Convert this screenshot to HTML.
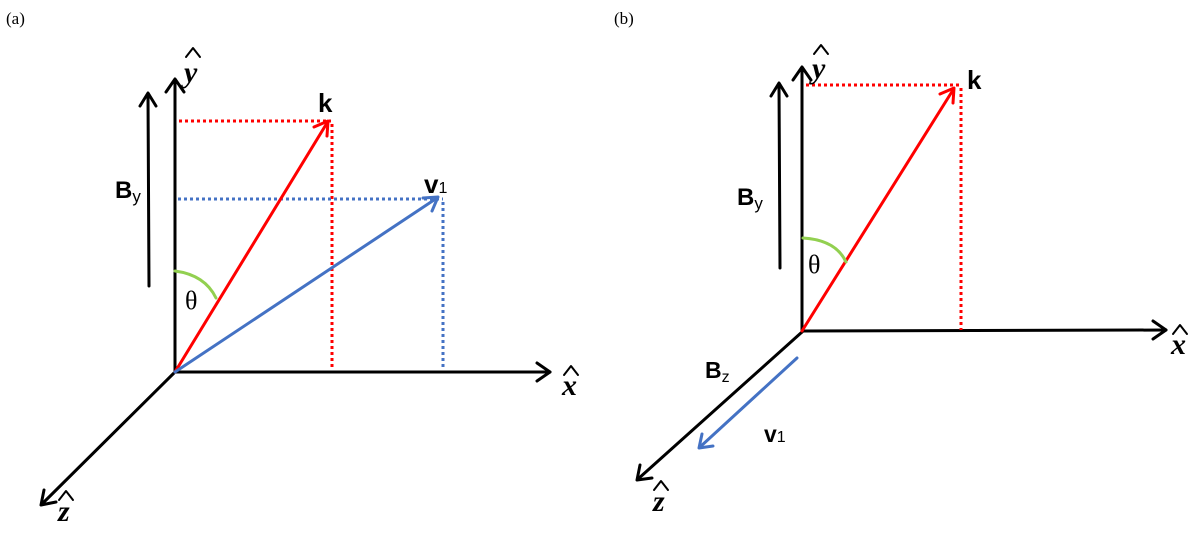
<!DOCTYPE html>
<html><head><meta charset="utf-8"><style>
html,body{margin:0;padding:0;background:#fff;}
svg{display:block;}
text{font-family:"Liberation Sans",sans-serif;}
.s{font-family:"Liberation Serif",serif;}
</style></head><body>
<svg width="1200" height="535" viewBox="0 0 1200 535" xmlns="http://www.w3.org/2000/svg">
<g fill="none" stroke-linecap="round" stroke-linejoin="round">
<!-- panel a -->
<g stroke="#000" stroke-width="3">
<line x1="175" y1="372" x2="175" y2="80"/><polyline points="166,92 175,79 184,92"/>
<line x1="175" y1="372" x2="550" y2="372"/><polyline points="537,363 550,372 537,381"/>
<line x1="175" y1="372" x2="42" y2="504"/><polyline points="44,490 41,505 56,502"/>
<line x1="149" y1="286" x2="148" y2="94"/><polyline points="140,106 148,93 156,106"/>
</g>
<g stroke="#ff0000" stroke-width="3" stroke-dasharray="3,3" stroke-linecap="butt">
<line x1="179" y1="121" x2="331" y2="121"/><line x1="332" y1="124" x2="332" y2="369"/>
</g>
<g stroke="#4472c4" stroke-width="3" stroke-dasharray="3,3" stroke-linecap="butt">
<line x1="178" y1="199" x2="443" y2="199"/><line x1="443" y1="202" x2="443" y2="367"/>
</g>
<line x1="175" y1="372" x2="327" y2="123" stroke="#ff0000" stroke-width="3"/>
<polyline points="314,127 328,121 327,136" stroke="#ff0000" stroke-width="3"/>
<line x1="175" y1="372" x2="437" y2="198" stroke="#4472c4" stroke-width="3"/>
<polyline points="423,198 438,197 432,211" stroke="#4472c4" stroke-width="3"/>
<path d="M175,271 Q205,275 216,298" stroke="#92d050" stroke-width="3"/>
<!-- panel b -->
<g stroke="#000" stroke-width="3">
<line x1="802" y1="332" x2="802" y2="68"/><polyline points="793,80 802,67 811,80"/>
<line x1="802" y1="331" x2="1166" y2="330"/><polyline points="1153,321 1166,330 1153,339"/>
<line x1="802" y1="332" x2="638" y2="479"/><polyline points="640,465 637,480 652,478"/>
<line x1="780" y1="268" x2="779" y2="84"/><polyline points="771,96 779,83 787,96"/>
</g>
<g stroke="#ff0000" stroke-width="3" stroke-dasharray="3,3" stroke-linecap="butt">
<line x1="806" y1="85" x2="959" y2="85"/><line x1="961" y1="88" x2="961" y2="330"/>
</g>
<line x1="802" y1="331" x2="953" y2="90" stroke="#ff0000" stroke-width="3"/>
<polyline points="940,94 954,88 953,103" stroke="#ff0000" stroke-width="3"/>
<path d="M803,238 Q836,240 846,262" stroke="#92d050" stroke-width="3"/>
<line x1="797" y1="358" x2="700" y2="447" stroke="#4472c4" stroke-width="3"/>
<polyline points="702,434 699,448 713,446" stroke="#4472c4" stroke-width="3"/>
<!-- hats -->
<g stroke="#000" stroke-width="2">
<polyline points="186,57 193,48 200,57"/>
<polyline points="564,375 571,366 578,375"/>
<polyline points="59,500 66,491 73,500"/>
<polyline points="814,54 821,45 828,54"/>
<polyline points="1173,334 1180,325 1187,334"/>
<polyline points="654,490 661,481 668,490"/>
</g>
</g>
<!-- labels -->
<text x="6" y="24" class="s" font-size="17">(a)</text>
<text x="614" y="24" class="s" font-size="17">(b)</text>
<g class="s" font-style="italic" font-weight="bold" font-size="30">
<text x="184" y="82" class="s">y</text>
<text x="562" y="395" class="s">x</text>
<text x="58" y="521" class="s">z</text>
<text x="812" y="78" class="s">y</text>
<text x="1171" y="354" class="s">x</text>
<text x="653" y="511" class="s">z</text>
</g>
<text x="318" y="112" font-size="26" font-weight="bold">k</text>
<text x="424" y="193" font-size="26" font-weight="bold">v<tspan font-size="16" font-weight="normal">1</tspan></text>
<text x="115" y="198" font-size="24" font-weight="bold">B<tspan font-size="17" font-weight="normal" dy="4">y</tspan></text>
<text x="185" y="309" class="s" font-size="26">θ</text>
<text x="967" y="89" font-size="26" font-weight="bold">k</text>
<text x="737" y="205" font-size="24" font-weight="bold">B<tspan font-size="17" font-weight="normal" dy="4">y</tspan></text>
<text x="808" y="273" class="s" font-size="26">θ</text>
<text x="705" y="378" font-size="23" font-weight="bold">B<tspan font-size="16" font-weight="normal" dy="4">z</tspan></text>
<text x="764" y="442" font-size="23" font-weight="bold">v<tspan font-size="16" font-weight="normal">1</tspan></text>
</svg>
</body></html>
